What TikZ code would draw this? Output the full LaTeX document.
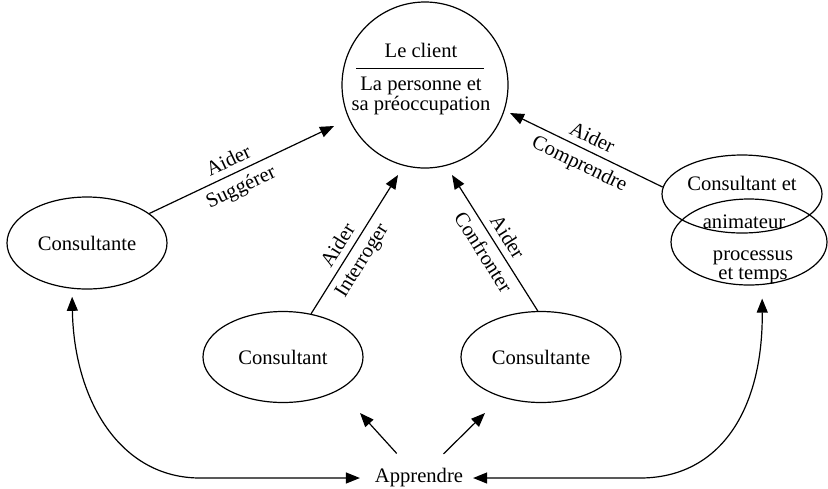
\documentclass[tikz,border=0pt]{standalone}
\usepackage{fontspec}
\setmainfont{Liberation Serif}
\usetikzlibrary{shapes.geometric,arrows.meta}
\begin{document}
\begin{tikzpicture}[x=0.5pt,y=-0.5pt,
  every node/.style={font=\fontsize{10.3pt}{12pt}\selectfont},
  ell/.style={draw,ellipse,line width=0.6pt,inner sep=0pt},
  arr/.style={line width=0.6pt,-{Triangle[length=7pt,width=5.5pt]}},
  darr/.style={line width=0.6pt,{Triangle[length=7pt,width=5.5pt]}-{Triangle[length=7pt,width=5.5pt]}},
  lbl/.style={sloped,inner sep=3.2pt}]
\useasboundingbox (0,0) rectangle (828,488);

% central circle
\node[draw,circle,line width=0.6pt,minimum size=83pt,inner sep=0pt] (client) at (425,85) {};
\node[anchor=base] (lc) at (421,57) {Le client};
\draw[line width=0.5pt] ([xshift=-34.5pt,yshift=8.5pt]client.center) -- ([xshift=29.5pt,yshift=8.5pt]client.center);
\node[anchor=base] (lp1) at (421,90) {La personne et};
\node[anchor=base] (lp2) at (421,110) {sa préoccupation};

% ellipses
\node[ell,minimum width=80pt,minimum height=46pt] (c0) at (87,243) {Consultante};
\node[ell,minimum width=80pt,minimum height=45.5pt] (c1) at (283,357) {Consultant};
\node[ell,minimum width=80pt,minimum height=45.5pt] (c2) at (541,357) {Consultante};
\node[ell,minimum width=80pt,minimum height=39pt] (c3a) at (742,194) {};
\node[ell,minimum width=78pt,minimum height=43pt] (c3b) at (749,242) {};
\node[anchor=base] (c3t1) at (742,190) {Consultant et};
\node[anchor=base] (c3t2) at (744,228) {animateur};
\node[anchor=base] (c3t3) at (753,260) {processus};
\node[anchor=base] (c3t4) at (753,279) {et temps};

\node (app) at (419,478) {Apprendre};

% arrow tips
\coordinate (t0) at (334,126);
\coordinate (t1) at (398,175);
\coordinate (t2) at (452,175);
\coordinate (t3) at (510,113);
\coordinate (ta) at (360,413);
\coordinate (tb) at (485,413);

\draw[arr] (c0) -- (t0)
  node[lbl,above,pos=0.46] (l0a) {Aider}
  node[lbl,below,pos=0.46] (l0b) {Suggérer};
\draw[arr] (c1.57) -- (t1)
  node[lbl,above,pos=0.44] (l1a) {Aider}
  node[lbl,below,pos=0.44] (l1b) {Interroger};
\draw[arr] (c2.94) -- (t2)
  node[lbl,above,pos=0.49] (l2a) {Aider}
  node[lbl,below,pos=0.49] (l2b) {Confronter};
\draw[arr] (c3a.175) -- (t3)
  node[lbl,above,pos=0.5] (l3a) {Aider}
  node[lbl,below,pos=0.5] (l3b) {Comprendre};

\draw[arr,shorten <=5.5pt] (app) -- (ta);
\draw[arr,shorten <=5.5pt] (app) -- (tb);

\draw[darr] ([yshift=-4pt]c0.252) .. controls (74,400) and (120,478) .. (200,478) -- ([xshift=-4pt]app.west);
\draw[darr] ([yshift=-6.8pt]c3b.287) .. controls (763,410) and (720,478) .. (640,478) -- ([xshift=1.5pt]app.east);
\end{tikzpicture}
\end{document}
